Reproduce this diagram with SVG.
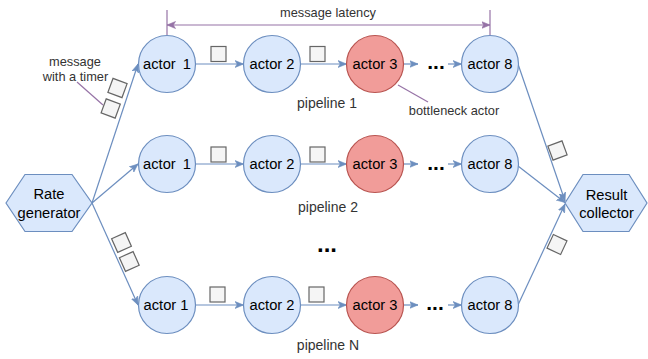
<svg xmlns="http://www.w3.org/2000/svg" width="648" height="359" viewBox="0 0 648 359">
<style>
.actor{fill:#dae8fc;stroke:#6c8ebf;stroke-width:1.2}
.bott{fill:#f19c99;stroke:#b85450;stroke-width:1.2}
.hex{fill:#dae8fc;stroke:#6c8ebf;stroke-width:1.2}
.lbl{font-family:"Liberation Sans",Arial,Helvetica,sans-serif;font-size:14.7px;text-anchor:middle;fill:#000}
.ann{font-family:"Liberation Sans",Arial,Helvetica,sans-serif;font-size:12.8px;text-anchor:middle;fill:#333}
.pl{font-family:"Liberation Sans",Arial,Helvetica,sans-serif;font-size:14px;text-anchor:middle;fill:#333}
.dots{font-family:"Liberation Sans",Arial,Helvetica,sans-serif;font-size:21px;font-weight:bold;text-anchor:middle;fill:#000}
.msg{fill:#f5f5f5;stroke:#666;stroke-width:1.2}
.edge{stroke:#6c8ebf;stroke-width:1.2;fill:none;marker-end:url(#arr)}
.ptr{stroke:#9673a6;stroke-width:1.2;fill:none}
</style>
<defs>
<marker id="arr" markerUnits="userSpaceOnUse" markerWidth="9" markerHeight="8" viewBox="0 0 9 8" refX="8.5" refY="4" orient="auto">
<path d="M0,0.5 L8.5,4 L0,7.5 L2.2,4 Z" fill="#6c8ebf" stroke="#6c8ebf" stroke-width="0.6"/>
</marker>
<marker id="parr" markerUnits="userSpaceOnUse" markerWidth="9" markerHeight="8" viewBox="0 0 9 8" refX="8.5" refY="4" orient="auto-start-reverse">
<path d="M0,0.5 L8.5,4 L0,7.5 L2.2,4 Z" fill="#9673a6" stroke="#9673a6" stroke-width="0.6"/>
</marker>
<rect id="box" x="-7.5" y="-7.5" width="15" height="15" class="msg"/>
</defs>

<g id="connectors">
<path class="edge" d="M92,203 L138,64"/>
<path class="edge" d="M92,203 L138,164"/>
<path class="edge" d="M92,203 L138,305"/>
<path class="edge" d="M195.5,64 H243.5"/>
<path class="edge" d="M300.5,64 H346.5"/>
<path class="edge" d="M403.5,64 H418"/>
<path class="edge" d="M448,64 H461.5"/>
<path class="edge" d="M195.5,164 H243.5"/>
<path class="edge" d="M300.5,164 H346.5"/>
<path class="edge" d="M403.5,164 H418"/>
<path class="edge" d="M448,164 H461.5"/>
<path class="edge" d="M195.5,305 H243.5"/>
<path class="edge" d="M300.5,305 H346.5"/>
<path class="edge" d="M403.5,305 H418"/>
<path class="edge" d="M448,305 H461.5"/>
<path class="edge" d="M518,64 L565,201"/>
<path class="edge" d="M518,166 L565,202.5"/>
<path class="edge" d="M518,305 L565,204"/>
<path class="ptr" d="M167,10 V35"/>
<path class="ptr" d="M490,10 V35"/>
<path class="ptr" d="M167,25 H490" marker-start="url(#parr)" marker-end="url(#parr)"/>
<path class="ptr" d="M77,82 L103,105"/>
<path class="ptr" d="M398,85 L428,102"/>
</g>

<g id="messages">
<use href="#box" transform="translate(218.5,54)"/>
<use href="#box" transform="translate(317.5,54)"/>
<use href="#box" transform="translate(218.5,154.5)"/>
<use href="#box" transform="translate(317.5,154.5)"/>
<use href="#box" transform="translate(217.5,294.5)"/>
<use href="#box" transform="translate(316.5,294.5)"/>
<use href="#box" transform="translate(117.5,88) rotate(20)"/>
<use href="#box" transform="translate(110.7,108.5) rotate(20)"/>
<use href="#box" transform="translate(121.5,242.5) rotate(-24)"/>
<use href="#box" transform="translate(129.3,261.5) rotate(-24)"/>
<use href="#box" transform="translate(557.5,150.5) rotate(-20)"/>
<use href="#box" transform="translate(557,244.5) rotate(25)"/>
</g>

<g id="rate-generator">
<polygon class="hex" points="6,203 25,174.5 72,174.5 92,203 72,231.5 25,231.5"/>
<text class="lbl" x="49" y="199">Rate</text>
<text class="lbl" x="49" y="217.5">generator</text>
</g>

<g id="result-collector">
<polygon class="hex" points="565,203 583,174.5 629,174.5 647,203 629,231.5 583,231.5"/>
<text class="lbl" x="606.5" y="200">Result</text>
<text class="lbl" x="606.5" y="217.5">collector</text>
</g>

<g id="p1-actor1"><circle class="actor" cx="167" cy="64" r="28.5"/><text class="lbl" x="167" y="69">actor <tspan dx="3">1</tspan></text></g>
<g id="p1-actor2"><circle class="actor" cx="272" cy="64" r="28.5"/><text class="lbl" x="272" y="69">actor 2</text></g>
<g id="p1-actor3"><circle class="bott" cx="375" cy="64" r="28.5"/><text class="lbl" x="375" y="69">actor 3</text></g>
<g id="p1-dots"><text class="dots" x="436" y="69">...</text></g>
<g id="p1-actor8"><circle class="actor" cx="490" cy="64" r="28.5"/><text class="lbl" x="490" y="69">actor 8</text></g>

<g id="p2-actor1"><circle class="actor" cx="167" cy="164" r="28.5"/><text class="lbl" x="167" y="169">actor <tspan dx="3">1</tspan></text></g>
<g id="p2-actor2"><circle class="actor" cx="272" cy="164" r="28.5"/><text class="lbl" x="272" y="169">actor 2</text></g>
<g id="p2-actor3"><circle class="bott" cx="375" cy="164" r="28.5"/><text class="lbl" x="375" y="169">actor 3</text></g>
<g id="p2-dots"><text class="dots" x="436" y="170">...</text></g>
<g id="p2-actor8"><circle class="actor" cx="490" cy="164" r="28.5"/><text class="lbl" x="490" y="169">actor 8</text></g>

<g id="pN-actor1"><circle class="actor" cx="167" cy="305" r="28.5"/><text class="lbl" x="166" y="310">actor 1</text></g>
<g id="pN-actor2"><circle class="actor" cx="272" cy="305" r="28.5"/><text class="lbl" x="272" y="310">actor 2</text></g>
<g id="pN-actor3"><circle class="bott" cx="375" cy="305" r="28.5"/><text class="lbl" x="375" y="310">actor 3</text></g>
<g id="pN-dots"><text class="dots" x="435" y="310">...</text></g>
<g id="pN-actor8"><circle class="actor" cx="490" cy="305" r="28.5"/><text class="lbl" x="490" y="310">actor 8</text></g>

<g id="labels">
<text class="ann" x="328" y="17">message latency</text>
<text class="ann" x="75" y="66">message</text>
<text class="ann" x="75.5" y="81">with a timer</text>
<text class="ann" x="454" y="115">bottleneck actor</text>
<text class="pl" x="327" y="108">pipeline 1</text>
<text class="pl" x="328" y="212">pipeline 2</text>
<text class="pl" x="328" y="350">pipeline N</text>
<text class="dots" x="327" y="252" style="font-size:24px">...</text>
</g>
</svg>
